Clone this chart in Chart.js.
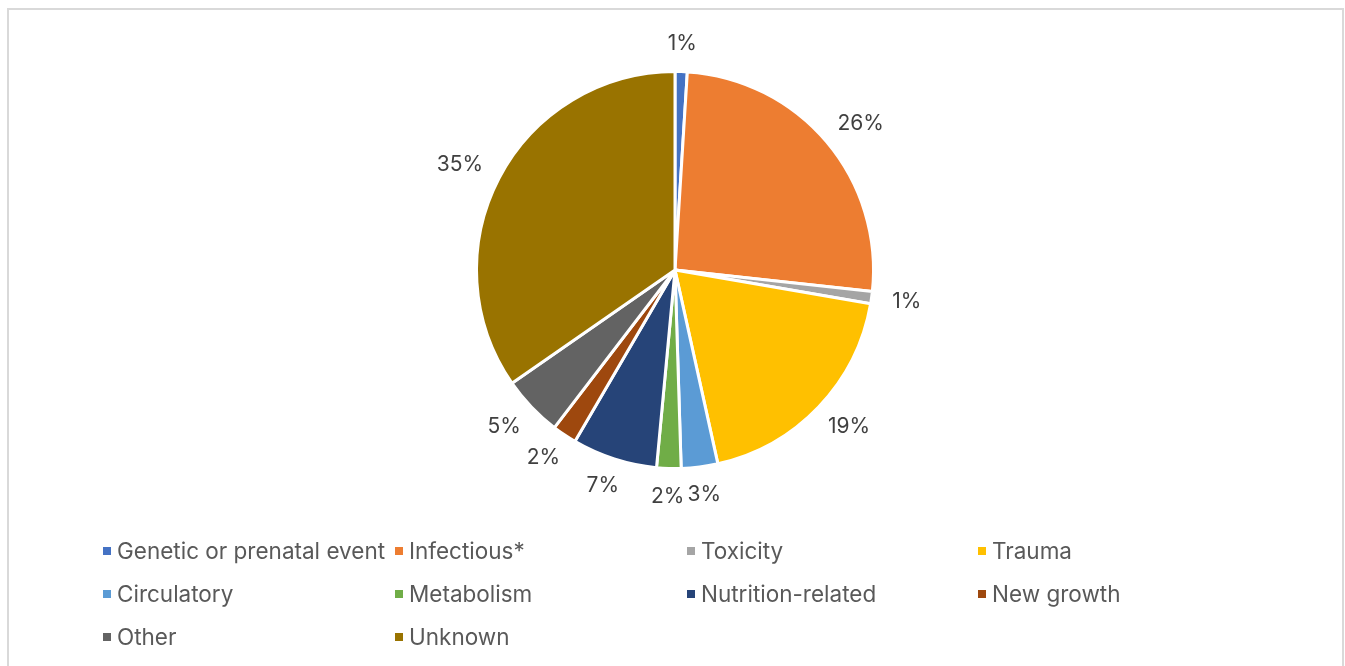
<!DOCTYPE html>
<html>
<head>
<meta charset="utf-8">
<script src="https://cdn.jsdelivr.net/npm/chart.js@4.4.1/dist/chart.umd.min.js"></script>
<style>
    html, body {
        margin: 0;
        padding: 0;
        background: #fff;
        overflow: hidden;
    }
    #wrap {
        position: relative;
        width: 1345px;
        height: 666px;
    }
    #frame {
        position: absolute;
        left: 7px;
        top: 8px;
        width: 1337px;
        height: 700px;
        border: 2px solid #d9d9d9;
        box-sizing: border-box;
        pointer-events: none;
    }
    #causes {
        position: absolute;
        left: 0;
        top: 0;
    }
</style>
</head>
<body>
<div id="wrap">
    <canvas id="causes" width="1345" height="666"></canvas>
    <div id="frame"></div>
</div>
<script>
const causeLabels = [
    "Genetic or prenatal event",
    "Infectious*",
    "Toxicity",
    "Trauma",
    "Circulatory",
    "Metabolism",
    "Nutrition-related",
    "New growth",
    "Other",
    "Unknown"
];
const causePercents = [1, 26, 1, 19, 3, 2, 7, 2, 5, 35];
const sliceColors = [
    "#4472C4",
    "#ED7D31",
    "#A5A5A5",
    "#FFC000",
    "#5B9BD5",
    "#70AD47",
    "#264478",
    "#9E480E",
    "#636363",
    "#997300"
];

const FONT = "Inter, 'Open Sans', sans-serif";

// percentage labels sitting just outside each slice
const outsideLabels = {
    id: 'outsideLabels',
    afterDatasetsDraw(chart) {
        const ctx = chart.ctx;
        const meta = chart.getDatasetMeta(0);
        const values = chart.data.datasets[0].data;
        ctx.save();
        ctx.font = '21px ' + FONT;
        ctx.fillStyle = '#404040';
        ctx.textAlign = 'center';
        ctx.textBaseline = 'middle';
        meta.data.forEach((arc, i) => {
            const mid = (arc.startAngle + arc.endAngle) / 2;
            const ux = Math.cos(mid);
            const uy = Math.sin(mid);
            const gap = 21;
            const text = values[i] + '%';
            const w = ctx.measureText(text).width;
            const h = 14;
            const px = arc.x + (arc.outerRadius + gap) * ux;
            const py = arc.y + (arc.outerRadius + gap) * uy;
            ctx.fillText(text, px + ux * w / 2, py + uy * h / 2);
        });
        ctx.restore();
    }
};

// legend laid out as a fixed 4-column grid below the pie
const gridLegend = {
    id: 'gridLegend',
    afterDraw(chart) {
        const ctx = chart.ctx;
        const labels = chart.data.labels;
        const colors = chart.data.datasets[0].backgroundColor;
        const colX = [103, 395, 687, 978];
        const rowY = [551, 594, 637];
        ctx.save();
        ctx.font = '22.5px ' + FONT;
        ctx.textAlign = 'left';
        ctx.textBaseline = 'middle';
        labels.forEach((label, i) => {
            const x = colX[i % 4];
            const y = rowY[Math.floor(i / 4)];
            ctx.fillStyle = colors[i];
            ctx.fillRect(x, y - 4, 8, 8);
            ctx.fillStyle = '#595959';
            ctx.fillText(label, x + 14, y + 1);
        });
        ctx.restore();
    }
};

function createCausesPie(id) {
    const chart = new Chart(id, {
        type: 'pie',
        data: {
            labels: causeLabels,
            datasets: [{
                data: causePercents,
                backgroundColor: sliceColors,
                borderColor: '#ffffff',
                borderWidth: 3
            }]
        },
        options: {
            responsive: false,
            animation: false,
            layout: {
                padding: { top: 70, bottom: 196, left: 5, right: 0 }
            },
            plugins: {
                legend: { display: false },
                tooltip: { enabled: false }
            }
        },
        plugins: [outsideLabels, gridLegend]
    });
    return chart;
}

createCausesPie('causes');
</script>
</body>
</html>
